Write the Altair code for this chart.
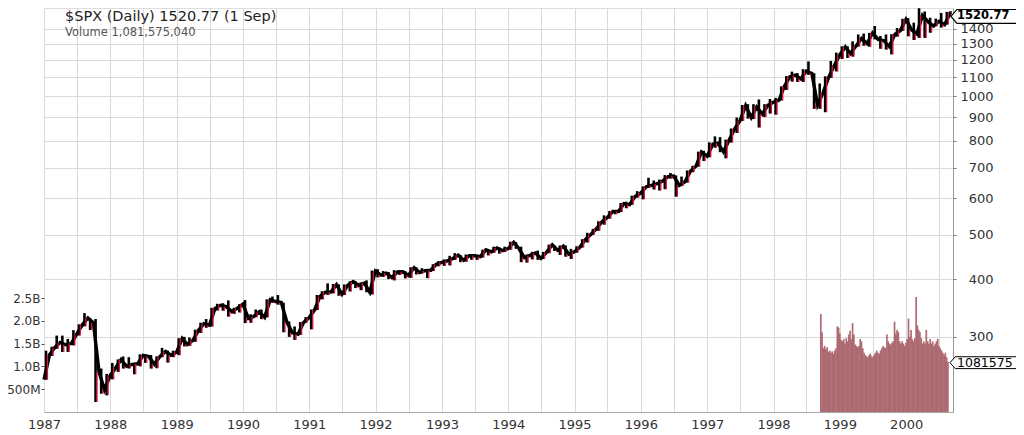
import altair as alt
import pandas as pd

# ---------------- data ----------------
start_date = "1987-01-01"
start_close = 242.2
month_start = "1987-01"          # first monthly record

closes = [
    274.1, 284.2, 291.7, 288.4, 290.1, 304.0, 318.7, 329.8, 321.8, 251.8, 230.3, 247.1,
    257.1, 267.8, 258.9, 261.3, 262.2, 273.5, 272.0, 261.5, 271.9, 279.0, 273.7, 277.7,
    297.5, 288.9, 294.9, 309.6, 320.5, 318.0, 346.1, 351.5, 349.2, 340.4, 346.0, 353.4,
    329.1, 331.9, 339.9, 330.8, 361.2, 358.0, 356.2, 322.6, 306.1, 304.0, 322.2, 330.2,
    343.9, 367.1, 375.2, 375.3, 389.8, 371.2, 387.8, 395.4, 387.9, 392.5, 375.2, 417.1,
    408.8, 412.7, 403.7, 415.0, 415.4, 408.1, 424.2, 414.0, 417.8, 418.7, 431.4, 435.7,
    438.8, 443.4, 451.7, 440.2, 450.2, 450.5, 448.1, 463.6, 458.9, 467.8, 461.8, 466.5,
    481.6, 467.1, 445.8, 450.9, 456.5, 444.3, 458.3, 475.5, 462.7, 472.4, 453.7, 459.3,
    470.4, 487.4, 500.7, 514.7, 533.4, 544.8, 562.1, 561.9, 584.4, 581.5, 605.4, 615.9,
    636.0, 640.4, 645.5, 654.2, 669.1, 670.6, 640.0, 652.0, 687.3, 705.3, 757.0, 740.7,
    786.2, 790.8, 757.1, 801.3, 848.3, 885.1, 954.3, 899.5, 947.3, 914.6, 955.4, 970.4,
    980.3, 1049.3, 1101.8, 1111.8, 1090.8, 1133.8, 1120.7, 957.3, 1017.0, 1098.7, 1163.6, 1229.2,
    1279.6, 1238.3, 1286.4, 1335.2, 1301.8, 1372.7, 1328.7, 1320.4, 1282.7, 1362.9, 1388.9, 1469.3,
    1394.5, 1366.4, 1498.6, 1452.4, 1420.6, 1454.6, 1430.8, 1517.7,
]
highs = [
    280.0, 285.5, 301.9, 301.9, 297.0, 310.3, 319.4, 337.9, 328.9, 328.0, 256.0, 249.2,
    263.3, 268.0, 272.0, 271.0, 263.0, 274.9, 275.0, 274.0, 272.1, 283.9, 280.0, 280.0,
    298.0, 300.0, 299.0, 311.0, 322.0, 328.0, 347.0, 354.0, 355.0, 360.0, 347.0, 353.4,
    360.6, 336.0, 344.0, 344.0, 362.0, 367.0, 369.8, 356.0, 324.0, 316.0, 323.0, 331.0,
    344.0, 370.0, 377.0, 392.0, 391.0, 390.0, 390.0, 396.0, 396.0, 394.0, 398.0, 418.0,
    421.0, 417.0, 415.0, 419.0, 419.0, 417.0, 425.0, 425.0, 423.0, 420.0, 431.5, 438.0,
    442.0, 450.0, 456.0, 452.0, 453.0, 454.0, 451.0, 464.0, 464.0, 471.0, 469.0, 471.0,
    482.9, 482.0, 471.0, 453.0, 459.0, 462.0, 459.0, 476.0, 474.0, 474.0, 474.0, 466.0,
    472.0, 489.0, 505.0, 515.0, 535.0, 551.0, 563.0, 566.0, 586.0, 590.0, 608.0, 622.0,
    637.0, 665.0, 656.0, 659.0, 674.0, 681.0, 673.0, 669.0, 690.0, 706.0, 758.0, 761.0,
    794.0, 818.0, 815.0, 805.0, 851.0, 899.0, 957.0, 961.0, 961.0, 984.0, 961.0, 986.0,
    992.0, 1051.0, 1106.0, 1131.0, 1123.0, 1145.0, 1190.0, 1122.0, 1066.0, 1105.0, 1193.0, 1244.0,
    1284.0, 1284.0, 1316.0, 1362.0, 1368.0, 1373.0, 1421.0, 1352.0, 1362.0, 1364.0, 1407.0, 1473.0,
    1478.0, 1445.0, 1553.0, 1528.0, 1481.0, 1474.0, 1517.0, 1525.0,
]
lows = [
    242.2, 272.6, 282.6, 278.2, 278.2, 287.5, 302.0, 316.2, 310.5, 216.5, 225.8, 223.9,
    242.6, 251.8, 256.0, 256.1, 248.8, 259.0, 263.5, 256.0, 256.5, 271.0, 263.8, 271.0,
    273.8, 286.0, 286.9, 292.8, 305.9, 314.0, 316.0, 342.2, 342.0, 332.0, 336.6, 339.0,
    321.4, 322.0, 331.0, 327.8, 330.8, 356.0, 352.5, 307.0, 300.0, 295.5, 303.0, 322.0,
    311.5, 343.0, 362.0, 370.0, 373.0, 368.5, 370.0, 376.5, 383.0, 379.0, 375.0, 371.0,
    404.0, 405.0, 400.5, 398.0, 409.0, 402.0, 403.0, 410.0, 412.5, 402.5, 417.0, 427.0,
    428.0, 429.0, 441.0, 436.0, 437.0, 441.0, 441.0, 446.0, 451.0, 457.0, 455.0, 459.0,
    464.0, 466.0, 436.0, 435.0, 442.0, 441.0, 443.0, 456.0, 461.0, 452.0, 448.0, 443.0,
    457.0, 469.0, 481.0, 500.0, 510.0, 526.0, 542.0, 554.0, 560.0, 571.0, 581.0, 602.0,
    597.0, 633.0, 627.0, 624.0, 628.0, 662.0, 605.0, 638.0, 649.0, 684.0, 703.0, 723.0,
    737.0, 773.0, 756.0, 733.0, 793.0, 832.0, 884.0, 894.0, 892.0, 855.0, 901.0, 917.0,
    912.0, 979.0, 1032.0, 1076.0, 1074.0, 1074.0, 1112.0, 939.0, 939.0, 923.0, 1096.0, 1132.0,
    1205.0, 1211.0, 1219.0, 1282.0, 1287.0, 1281.0, 1329.0, 1268.0, 1263.0, 1233.0, 1347.0, 1387.0,
    1350.0, 1325.0, 1339.0, 1339.0, 1374.0, 1420.0, 1410.0, 1431.0,
]
last_date = "2000-09-01"
last_close = 1520.77
last_high = 1530.1
last_low = 1515.5

vol_start = "1998-09-18"          # weekly volume, billions of shares
volumes_b = [
    2.15, 1.75, 1.40, 1.45, 1.38, 1.42, 1.32, 1.35, 1.30, 1.33, 1.28, 1.35, 1.40, 1.88, 1.85,
    1.72, 1.58, 1.55, 1.60, 1.50, 1.62, 1.55, 1.70, 1.78, 1.60, 1.95, 1.70, 1.48, 1.45, 1.42,
    1.45, 1.60, 1.55, 1.40, 1.30, 1.25, 1.22, 1.20, 1.25, 1.28, 1.22, 1.20, 1.25, 1.30, 1.35,
    1.30, 1.28, 1.35, 1.40, 1.45, 1.42, 1.40, 1.70, 1.55, 1.50, 1.48, 1.52, 1.55, 1.98, 1.72,
    1.80, 1.75, 1.55, 1.50, 1.55, 1.50, 1.45, 1.52, 1.60, 2.05, 1.65, 1.80, 1.60, 1.55, 1.62,
    2.52, 1.90, 1.80, 1.75, 1.62, 1.50, 1.55, 1.50, 1.80, 1.55, 1.50, 1.60, 1.50, 1.55, 1.45,
    1.50, 1.55, 1.60, 1.45, 1.40, 1.35, 1.30, 1.25, 1.30, 1.20, 1.10,
]
last_volume = 1081575040
last_volume_shown = "1081575"    # the part of the tag that is visible

price_ticks = [300, 400, 500, 600, 700, 800, 900, 1000, 1100, 1200, 1300, 1400]
vol_ticks = [500e6, 1.0e9, 1.5e9, 2.0e9, 2.5e9]

header_1 = "$SPX (Daily) 1520.77 (1 Sep)"
header_2 = "Volume 1,081,575,040"

# ---------------- frames ----------------
n = len(closes)
mstart = pd.date_range(month_start, periods=n, freq="MS")
bars = pd.DataFrame({
    "d_bar": list(mstart + pd.Timedelta(days=11)) + [pd.Timestamp(last_date)],
    "d_red": list(mstart + pd.Timedelta(days=19)) + [pd.Timestamp(last_date)],
    "low": lows + [last_low],
    "high": highs + [last_high],
    "close": closes + [last_close],
})
line = pd.DataFrame({
    "d": [pd.Timestamp(start_date)] + list(mstart + pd.offsets.MonthEnd(0)) + [pd.Timestamp(last_date)],
    "price": [start_close] + closes + [last_close],
})
vols = pd.DataFrame({
    "d": pd.date_range(vol_start, periods=len(volumes_b), freq="7D"),
    "vol": [v * 1e9 for v in volumes_b],
})
tag_p = pd.DataFrame({"price": [last_close], "label": [f"{last_close:.2f}"]})
tag_v = pd.DataFrame({"vol": [last_volume], "label": [last_volume_shown]})
head = pd.DataFrame({"t1": [header_1], "t2": [header_2]})

# ---------------- scales / axes ----------------
W, H = 909, 404
FONT = "DejaVu Sans"
GRID = "#d9d9d9"

x_scale = alt.Scale(domain=[alt.DateTime(year=1987, month=1, date=1),
                            alt.DateTime(year=2000, month=9, date=15)], padding=0)
x_vals = [alt.DateTime(year=y, month=m, date=1)
          for y in range(1987, 2001) for m in (1, 7)]
x_axis = alt.Axis(values=x_vals, title=None, grid=True, gridColor=GRID, ticks=False,
                  labelExpr="month(datum.value) === 0 ? timeFormat(datum.value, '%Y') : ''",
                  labelFlush=False, labelOverlap=False, labelPadding=6,
                  labelFont=FONT, labelFontSize=13, labelColor="#333",
                  domainColor="#aaaaaa")

def X(field):
    return alt.X(field, type="temporal", scale=x_scale, axis=x_axis)

p_scale = alt.Scale(type="log", domain=[206, 1555], nice=False, zero=False)
p_axis = alt.Axis(orient="right", values=price_ticks, format="d", title=None, grid=True,
                  gridColor=GRID, tickSize=3, tickColor="#777", labelAlign="right",
                  labelPadding=37, labelFont=FONT, labelFontSize=13, labelColor="#333",
                  domainColor="#999999", labelOverlap=False)

def P(field):
    return alt.Y(field, type="quantitative", scale=p_scale, axis=p_axis)

v_scale = alt.Scale(domain=[0, 8.86e9], nice=False)
v_axis = alt.Axis(orient="left", values=vol_ticks, title=None, grid=False, domain=False,
                  tickSize=3, tickColor="#555", labelPadding=1,
                  labelExpr="datum.value < 1e9 ? format(datum.value / 1e6, 'd') + 'M' : format(datum.value / 1e9, '.1f') + 'B'",
                  labelFont=FONT, labelFontSize=12, labelColor="#333", labelOverlap=False)

def V(field):
    return alt.Y(field, type="quantitative", scale=v_scale, axis=v_axis)

# ---------------- volume group ----------------
vol_bars = alt.Chart(vols).mark_bar(size=1.7, color="#aa636b", opacity=0.95).encode(
    x=X("d"), y=V("vol"))
vol_tag = alt.Chart(tag_v).mark_point(
    shape="M0,0L0.16,-0.18L3,-0.18L3,0.18L0.16,0.18Z", size=4356, filled=True,
    fill="white", stroke="#000", strokeWidth=1, opacity=1).encode(
    x=alt.value(W - 3), y=V("vol"))
vol_tag_txt = alt.Chart(tag_v).mark_text(
    align="left", baseline="middle", font=FONT, fontSize=12.5, color="#000").encode(
    x=alt.value(W + 4), y=V("vol"), text="label:N")
vol_group = alt.layer(vol_bars, vol_tag, vol_tag_txt)

# ---------------- price group ----------------
blk_rules = alt.Chart(bars).mark_rule(color="#000", strokeWidth=2.6).encode(
    x=X("d_bar"), y=P("low"), y2="high")
close_line = alt.Chart(line).mark_line(color="#000", strokeWidth=3.4).encode(
    x=X("d"), y=P("price"))
red_rules = alt.Chart(bars).mark_rule(color="#dc143c", strokeWidth=1.3).encode(
    x=X("d_red"), y=P("low"), y2="close")
# tag drawn a few px below the last close so that it stays inside the picture
p_tag = alt.Chart(tag_p).mark_point(
    shape="M0,0.12L0.18,-0.09L2,-0.09L2,0.33L0.18,0.33Z", size=4356, filled=True,
    fill="white", stroke="#000", strokeWidth=1.2, opacity=1).encode(
    x=alt.value(W - 2), y=P("price"))
p_tag_txt = alt.Chart(tag_p).mark_text(
    align="left", baseline="middle", font=FONT, fontSize=11.5, fontWeight="bold",
    color="#000", dy=4).encode(x=alt.value(W + 4), y=P("price"), text="label:N")
price_group = alt.layer(blk_rules, close_line, red_rules, p_tag, p_tag_txt)

# ---------------- header ----------------
h1 = alt.Chart(head).mark_text(align="left", baseline="top", font=FONT, fontSize=14.5,
                               color="#222", x=21, y=2).encode(text="t1:N")
h2 = alt.Chart(head).mark_text(align="left", baseline="top", font=FONT, fontSize=11.5,
                               color="#555", x=21, y=19).encode(text="t2:N")

chart = alt.layer(vol_group, price_group, h1, h2).resolve_scale(y="independent").properties(
    width=W, height=H,
    padding={"left": 36, "top": 0, "right": 63, "bottom": 23},
    autosize=alt.AutoSizeParams(type="none"),
).configure_view(stroke=None).configure(background="white")

chart.save("out.html", embed_options={"renderer": "svg", "actions": False})
